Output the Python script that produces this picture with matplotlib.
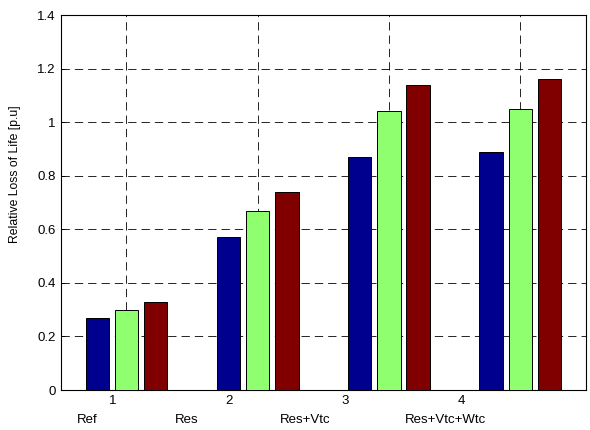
import numpy as np
import matplotlib.pyplot as plt

plt.rcParams['font.family'] = ['Liberation Sans', 'DejaVu Sans']

groups = [1, 2, 3, 4]
case_names = ['Ref', 'Res', 'Res+Vtc', 'Res+Vtc+Wtc']
blue_vals = [0.27, 0.57, 0.87, 0.89]
green_vals = [0.30, 0.67, 1.04, 1.05]
red_vals = [0.33, 0.74, 1.14, 1.16]
colors = ['#00008f', '#8fff70', '#800000']

fig = plt.figure(figsize=(5.9, 4.3), dpi=100)
ax = fig.add_axes([0.103, 0.093, 0.890, 0.872])

x = np.array(groups)
step = 0.222
width = 0.178
for i, vals in enumerate([blue_vals, green_vals, red_vals]):
    ax.bar(x + (i - 1) * step, vals, width, color=colors[i],
           edgecolor='black', linewidth=0.7, zorder=3)

ax.set_xlim(0.5, 4.5)
ax.set_ylim(0, 1.4)
ax.set_yticks(np.arange(0, 1.41, 0.2))
ax.set_yticklabels(['0', '0.2', '0.4', '0.6', '0.8', '1', '1.2', '1.4'])
ax.set_xticks(groups)
ax.set_xticklabels([])
ax.tick_params(direction='in', length=3, labelsize=9.5, width=0.6)
ax.grid(True, color='black', linestyle=(0, (10, 6)), linewidth=0.6, zorder=0)
ax.set_axisbelow(True)
for s in ax.spines.values():
    s.set_linewidth(0.8)

ax.set_ylabel('Relative Loss of Life [p.u]', fontsize=8.8)
ax.yaxis.set_label_coords(-0.075, 0.576)

# group numbers and case names under the axis (offset as in the original)
num_pos = [0.894, 1.78, 2.67, 3.55]
name_pos = [0.70, 1.46, 2.36, 3.43]
for g, xp in zip(groups, num_pos):
    ax.text(xp, -0.029, str(g), ha='center', va='center', fontsize=9.5,
            transform=ax.get_xaxis_transform())
for name, xp in zip(case_names, name_pos):
    ax.text(xp, -0.080, name, ha='center', va='center', fontsize=9.5,
            transform=ax.get_xaxis_transform())

fig.savefig('out.png', dpi=100)
